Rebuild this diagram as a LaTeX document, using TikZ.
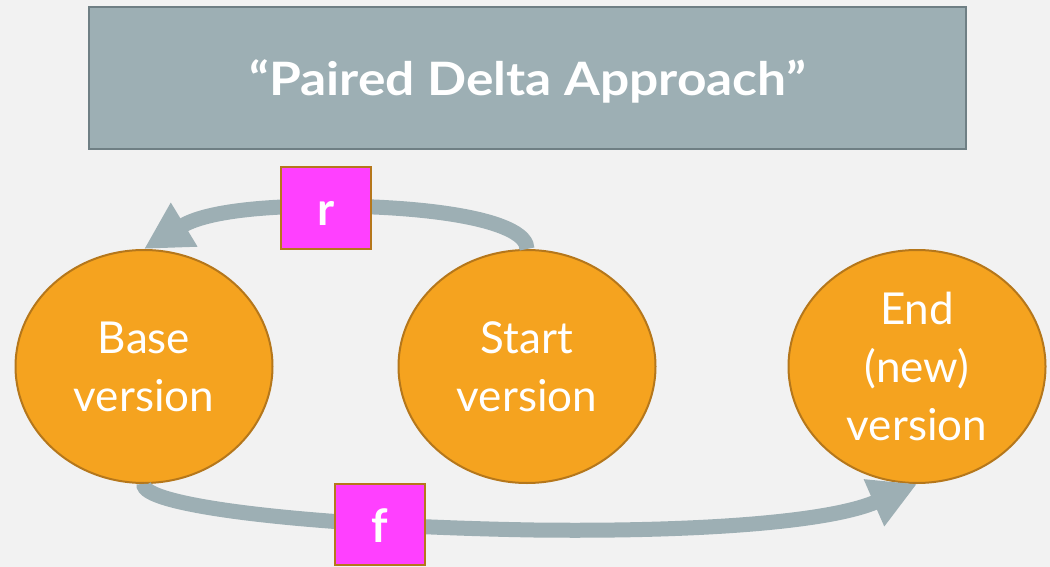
\documentclass[tikz,border=0pt]{standalone}
\usepackage{fontspec}
\setmainfont{Lato}
\usetikzlibrary{shapes.geometric,arrows.meta}
\definecolor{bg}{HTML}{F2F2F2}
\definecolor{slate}{HTML}{9DAFB4}
\definecolor{slateedge}{HTML}{6F7F84}
\definecolor{orangefill}{HTML}{F5A31F}
\definecolor{orangeedge}{HTML}{B5771B}
\definecolor{magentafill}{HTML}{FF40FF}
\begin{document}
\begin{tikzpicture}[x=1pt,y=-1pt,
  titlebox/.style={draw=slateedge, line width=2.5pt, fill=slate, minimum width=877pt, minimum height=142pt, inner sep=0pt, text height=36pt, text depth=0pt, text=white, font=\fontsize{46}{46}\selectfont\bfseries},
  version/.style={ellipse, draw=orangeedge, line width=2pt, fill=orangefill, minimum width=257pt, minimum height=233pt, inner sep=0pt, text=white, align=center, font=\fontsize{44}{58}\selectfont},
  labelbox/.style={draw=orangeedge, line width=2pt, fill=magentafill, minimum width=90pt, minimum height=82pt, inner sep=0pt, text height=35pt, text depth=0pt, text=white, font=\fontsize{46}{46}\selectfont\bfseries},
  flow/.style={draw=slate, line width=15pt, -{Triangle[length=47pt,width=48pt]}},
]
\fill[bg] (0,0) rectangle (1050,567);
\useasboundingbox (0,0) rectangle (1050,567);
\node[titlebox] (title) at (527.5,78) {\scalebox{1.12}[1]{“Paired Delta Approach”}};
\node[version] (base) at (144,366.5) {Base\\version};
\node[version] (start) at (527,366.5) {Start\\version};
\node[version] (end) at (917,366.5) {End\\(new)\\version};
\draw[flow] (start.north) .. controls (527,222) and (440,206) .. (326,206)
  .. controls (260,206) and (205,212) .. (base.north);
\draw[flow] (base.south) .. controls (140,505) and (300,526) .. (534,530)
  .. controls (700,532) and (830,522) .. (end.south);
\node[labelbox] (r) at (326,208) {r};
\node[labelbox, minimum height=81pt] (f) at (380,524.5) {f};
\end{tikzpicture}
\end{document}
